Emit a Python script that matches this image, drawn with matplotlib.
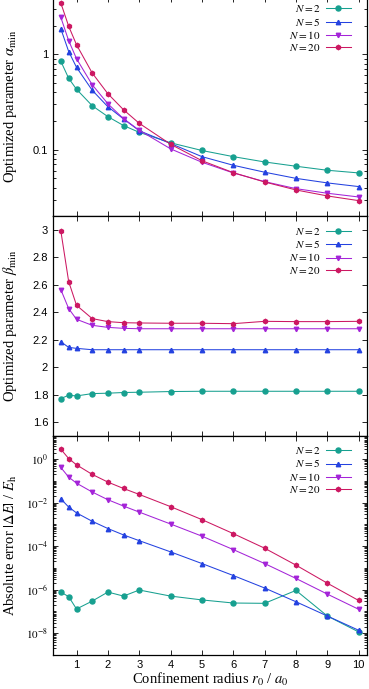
import numpy as np
import matplotlib

matplotlib.use('Agg')
import matplotlib.pyplot as plt
from matplotlib.ticker import LogLocator, FixedLocator, NullFormatter

plt.rcParams['font.family'] = ['Liberation Serif', 'DejaVu Serif']
plt.rcParams['mathtext.fontset'] = 'stix'

r0 = [0.5, 0.75, 1, 1.5, 2, 2.5, 3, 4, 5, 6, 7, 8, 9, 10]
labels = ['$N = 2$', '$N = 5$', '$N = 10$', '$N = 20$']

alpha_n2 = [0.845, 0.56, 0.43, 0.289, 0.222, 0.179, 0.152, 0.118, 0.098, 0.0845, 0.0743, 0.067, 0.0608, 0.057]
alpha_n5 = [1.85, 1.07, 0.73, 0.42, 0.282, 0.21, 0.158, 0.116, 0.0845, 0.0686, 0.058, 0.050, 0.0448, 0.041]
alpha_n10 = [2.44, 1.39, 0.9, 0.48, 0.303, 0.211, 0.16, 0.102, 0.0738, 0.057, 0.0462, 0.039, 0.0349, 0.0319]
alpha_n20 = [3.45, 1.97, 1.26, 0.637, 0.386, 0.262, 0.189, 0.114, 0.0766, 0.0574, 0.0458, 0.0378, 0.0327, 0.0292]

beta_n2 = [1.771, 1.795, 1.79, 1.807, 1.81, 1.815, 1.817, 1.822, 1.824, 1.824, 1.824, 1.824, 1.824, 1.824]
beta_n5 = [2.185, 2.144, 2.137, 2.127, 2.127, 2.127, 2.127, 2.127, 2.127, 2.127, 2.127, 2.127, 2.127, 2.127]
beta_n10 = [2.565, 2.427, 2.349, 2.305, 2.29, 2.283, 2.28, 2.28, 2.28, 2.28, 2.28, 2.28, 2.28, 2.28]
beta_n20 = [2.993, 2.624, 2.451, 2.354, 2.332, 2.324, 2.322, 2.32, 2.32, 2.317, 2.334, 2.332, 2.332, 2.334]

err_n2 = [7.8e-7, 4.8e-7, 1.3e-7, 3.0e-7, 7.8e-7, 5.1e-7, 9.7e-7, 5.1e-7, 3.4e-7, 2.45e-7, 2.37e-7, 9.3e-7, 6.2e-8, 1.15e-8]
err_n5 = [1.5e-2, 6.3e-3, 3.4e-3, 1.4e-3, 6.5e-4, 3.3e-4, 1.8e-4, 5.5e-5, 1.6e-5, 4.5e-6, 1.2e-6, 2.8e-7, 6.2e-8, 1.37e-8]
err_n10 = [0.415, 0.15, 0.079, 0.031, 0.0137, 7.0e-3, 3.7e-3, 1.05e-3, 2.9e-4, 7.0e-5, 1.6e-5, 3.3e-6, 6.3e-7, 1.26e-7]
err_n20 = [2.87, 1.07, 0.55, 0.2, 0.0885, 0.045, 0.024, 6.6e-3, 1.67e-3, 3.8e-4, 8.1e-5, 1.35e-5, 2.0e-6, 3.2e-7]

colors = ['#17a090', '#2442e0', '#a424d8', '#cc1862']
markers = ['o', '^', 'v', 'h']
msizes = [3.6, 3.2, 3.2, 3.2]

fig = plt.figure(figsize=(3.69, 6.89), dpi=100)
W, H = 369.0, 689.0
left, right = 53 / W, 366.5 / W
bounds = [(H - 216.3, H + 3.1), (H - 435.7, H - 216.3), (H - 655, H - 435.7)]
axes = []
for b0, b1 in bounds:
    axes.append(fig.add_axes([left, b0 / H, right - left, (b1 - b0) / H]))

sets = [
    [alpha_n2, alpha_n5, alpha_n10, alpha_n20],
    [beta_n2, beta_n5, beta_n10, beta_n20],
    [err_n2, err_n5, err_n10, err_n20],
]

for k, (ax, data) in enumerate(zip(axes, sets)):
    for i in range(4):
        ax.plot(r0, data[i], color=colors[i], marker=markers[i], ms=msizes[i],
                lw=0.75, label=labels[i])
    ax.set_xlim(0.25, 10.25)
    ax.xaxis.set_major_locator(FixedLocator(range(1, 11)))
    ax.tick_params(which='both', direction='in', top=True, right=True,
                   labelsize=8, width=0.6)
    ax.tick_params(which='major', length=3.5)
    ax.tick_params(which='minor', length=2)
    for s in ax.spines.values():
        s.set_linewidth(0.9)
    top_pad = 2 if k == 0 else 5
    leg = ax.legend(loc='upper right', frameon=False, markerfirst=False,
                    fontsize=8, handlelength=2.3, borderaxespad=0,
                    bbox_to_anchor=(1 - 11 / 313.5, 1 - top_pad / 219.4),
                    labelspacing=0.12, handletextpad=0.45)
    for t in leg.get_texts():
        t.set_ha('right')
    ax.yaxis.set_label_coords(-33.5 / 313.5, 0.5)

ax1, ax2, ax3 = axes
ax1.set_yscale('log')
ax1.set_ylim(0.02, 4.0)
ax1.set_yticks([0.1, 1])
ax1.set_yticklabels(['0.1', '1'])
ax1.yaxis.set_minor_locator(LogLocator(base=10, subs=np.arange(2, 10)))
ax1.yaxis.set_minor_formatter(NullFormatter())
ax1.set_xticklabels([])
ax1.set_ylabel(r'Optimized parameter $\alpha_{\rm min}$', fontsize=10.5)

ax2.set_ylim(1.5, 3.1)
ax2.set_yticks([1.6, 1.8, 2, 2.2, 2.4, 2.6, 2.8, 3])
ax2.set_yticklabels(['1.6', '1.8', '2', '2.2', '2.4', '2.6', '2.8', '3'])
ax2.set_xticklabels([])
ax2.set_ylabel(r'Optimized parameter $\beta_{\rm min}$', fontsize=10.5)

ax3.set_yscale('log')
ax3.set_ylim(1e-9, 12)
ax3.set_yticks([1e-8, 1e-6, 1e-4, 1e-2, 1])
ax3.set_yticklabels(['$10^{-8}$', '$10^{-6}$', '$10^{-4}$', '$10^{-2}$', '$10^{0}$'])
ax3.yaxis.set_minor_locator(LogLocator(base=10, subs=np.arange(1, 10), numticks=30))
ax3.yaxis.set_minor_formatter(NullFormatter())
ax3.set_xticklabels([str(i) for i in range(1, 11)])
ax3.set_ylabel(r'Absolute error $|\Delta E|$ / $E_{\rm h}$', fontsize=10.5)
ax3.set_xlabel(r'Confinement radius $r_0$ / $a_0$', fontsize=10.5, labelpad=0.5)

for ax in axes:
    for lab in ax.get_xticklabels() + ax.get_yticklabels():
        lab.set_family(['Liberation Sans', 'DejaVu Sans'])

fig.savefig('out.png', dpi=100)
plt.close()
